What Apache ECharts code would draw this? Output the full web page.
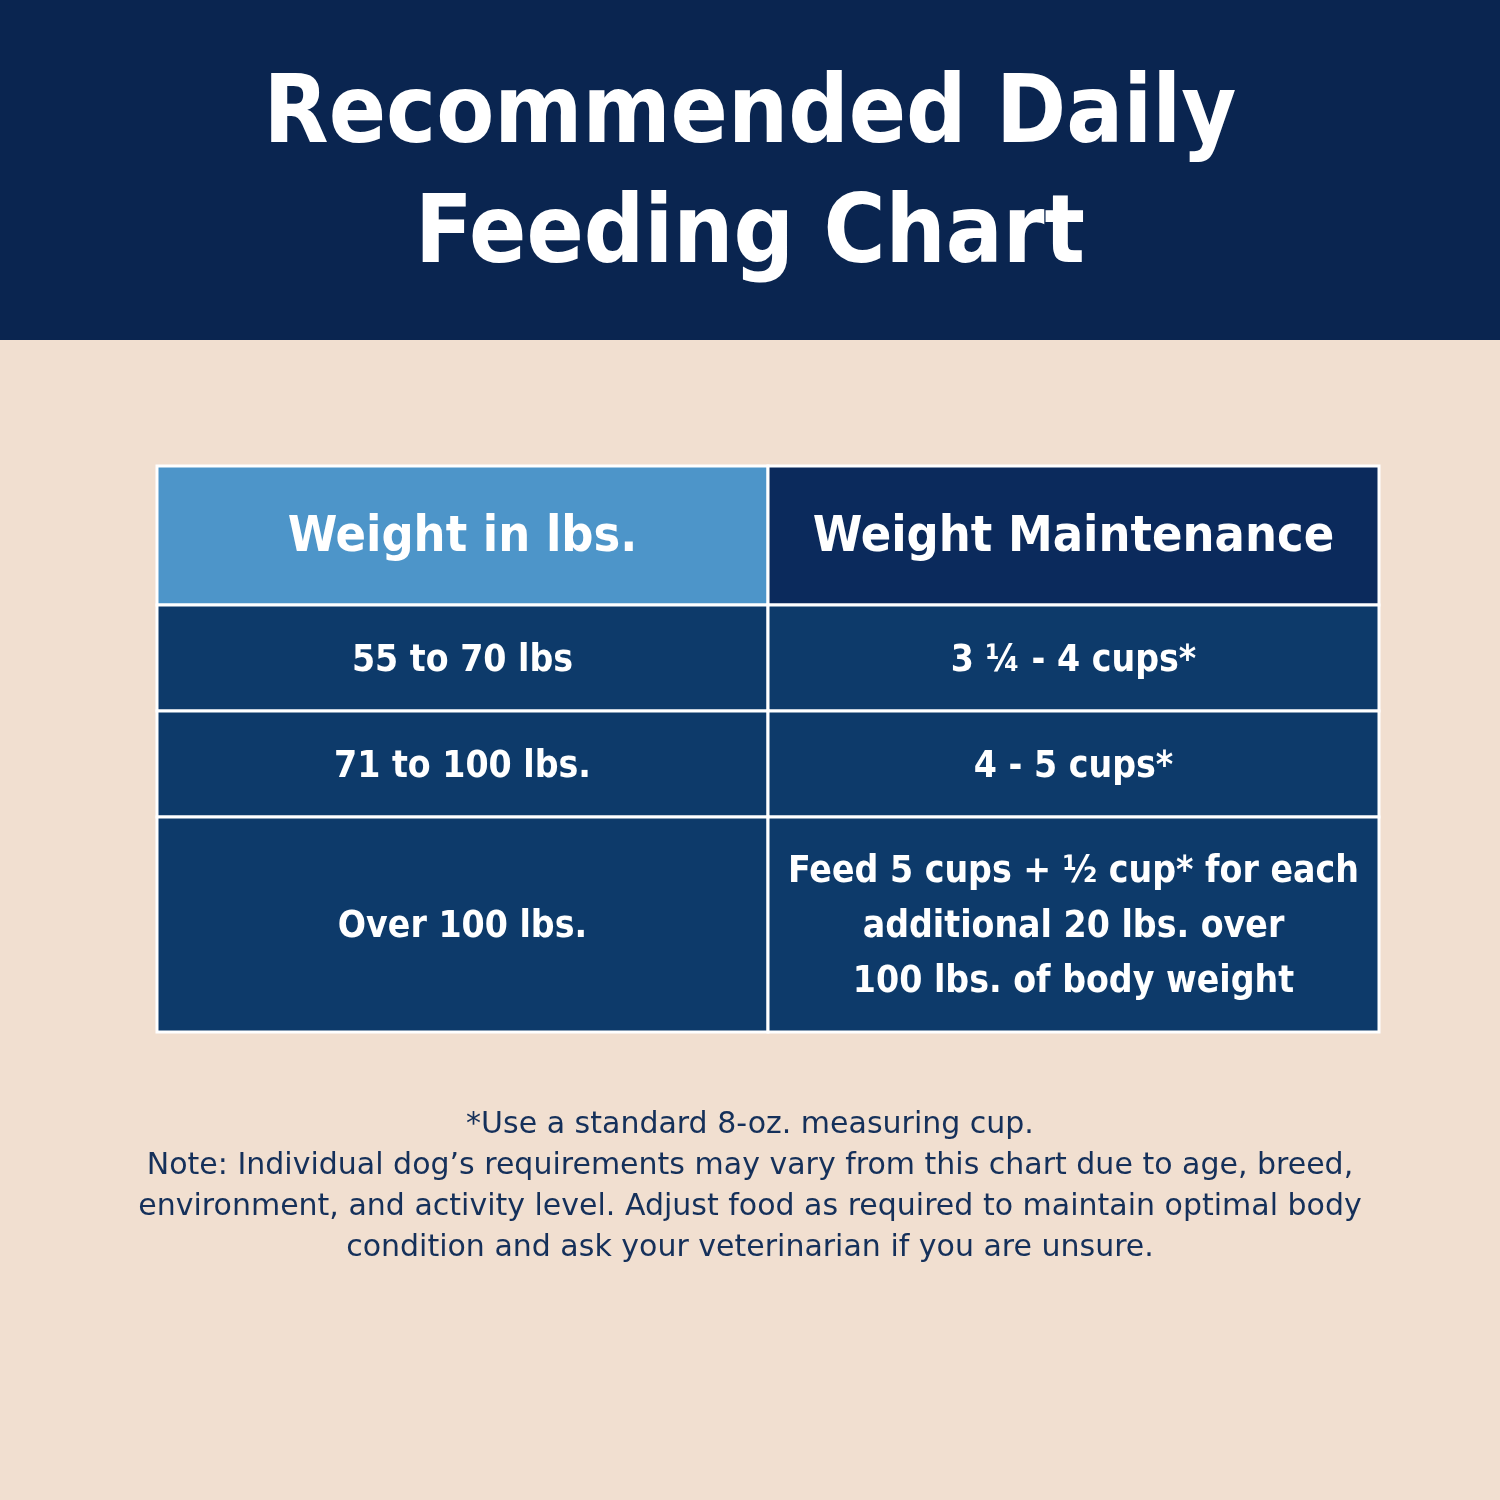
<!DOCTYPE html>
<html><head><meta charset="utf-8">
<script src="https://cdn.jsdelivr.net/npm/echarts@6/dist/echarts.min.js"></script>
<style>html,body{margin:0;padding:0;background:#f1dfd0}#c{width:1500px;height:1500px}</style>
</head><body><div id="c"></div>
<script>
var titleLines = ['Recommended Daily', 'Feeding Chart'];
var headers = ['Weight in lbs.', 'Weight Maintenance'];
var weights = ['55 to 70 lbs', '71 to 100 lbs.', 'Over 100 lbs.'];
var amounts = ['3 ¼ - 4 cups*', '4 - 5 cups*', 'Feed 5 cups + ½ cup* for each\nadditional 20 lbs. over\n100 lbs. of body weight'];
var notes = ['*Use a standard 8-oz. measuring cup.',
  'Note: Individual dog\u2019s requirements may vary from this chart due to age, breed,',
  'environment, and activity level. Adjust food as required to maintain optimal body',
  'condition and ask your veterinarian if you are unsure.'];

// layout (pixel-like units on hidden axes)
var colEdges = [157, 768, 1379];
var rowEdges = [466, 605, 711, 817, 1032];
var condensed = '"DejaVu Sans Condensed","DejaVu Sans",sans-serif';

var cells = [];
headers.forEach(function (h, c) { cells.push([c, 0, h]); });
weights.forEach(function (w, r) { cells.push([0, r + 1, w]); cells.push([1, r + 1, amounts[r]]); });

function fillFor(c, r) {
  if (r === 0) return c === 0 ? '#4d95c9' : '#0b2a5c';
  return '#0d3a6a';
}

var option = {
  backgroundColor: '#f1dfd0',
  animation: false,
  grid: { left: 0, top: 0, width: 1500, height: 1500 },
  xAxis: { type: 'value', min: 0, max: 1500, show: false },
  yAxis: { type: 'value', min: 0, max: 1500, inverse: true, show: false },
  graphic: [
    { type: 'rect', shape: { x: 0, y: 0, width: 1500, height: 340 }, style: { fill: '#0a2550' }, z: 0 },
    { type: 'text', x: 750, y: 118, style: { text: titleLines[0], fill: '#fff', font: 'bold 94px ' + condensed, align: 'center', verticalAlign: 'middle' } },
    { type: 'text', x: 750, y: 238, style: { text: titleLines[1], fill: '#fff', font: 'bold 94px ' + condensed, align: 'center', verticalAlign: 'middle' } },
    { type: 'text', x: 750, y: 1187, style: { text: notes.join('\n'), fill: '#15305a', font: '30px "DejaVu Sans",sans-serif', align: 'center', verticalAlign: 'middle', lineHeight: 41 } }
  ],
  series: [{
    type: 'custom',
    data: cells,
    renderItem: function (params, api) {
      var c = api.value(0), r = api.value(1);
      var p0 = api.coord([colEdges[c], rowEdges[r]]);
      var p1 = api.coord([colEdges[c + 1], rowEdges[r + 1]]);
      var txt = cells[params.dataIndex][2];
      var fs = r === 0 ? 50 : 37;
      return {
        type: 'group',
        children: [
          { type: 'rect', shape: { x: p0[0], y: p0[1], width: p1[0] - p0[0], height: p1[1] - p0[1] },
            style: { fill: fillFor(c, r), stroke: '#ffffff', lineWidth: 3 } },
          { type: 'text', x: (p0[0] + p1[0]) / 2, y: (p0[1] + p1[1]) / 2 + 3,
            style: { text: txt, fill: '#fff', font: 'bold ' + fs + 'px ' + condensed,
              align: 'center', verticalAlign: 'middle', lineHeight: 55 } }
        ]
      };
    }
  }]
};
echarts.init(document.getElementById('c')).setOption(option);
</script></body></html>
